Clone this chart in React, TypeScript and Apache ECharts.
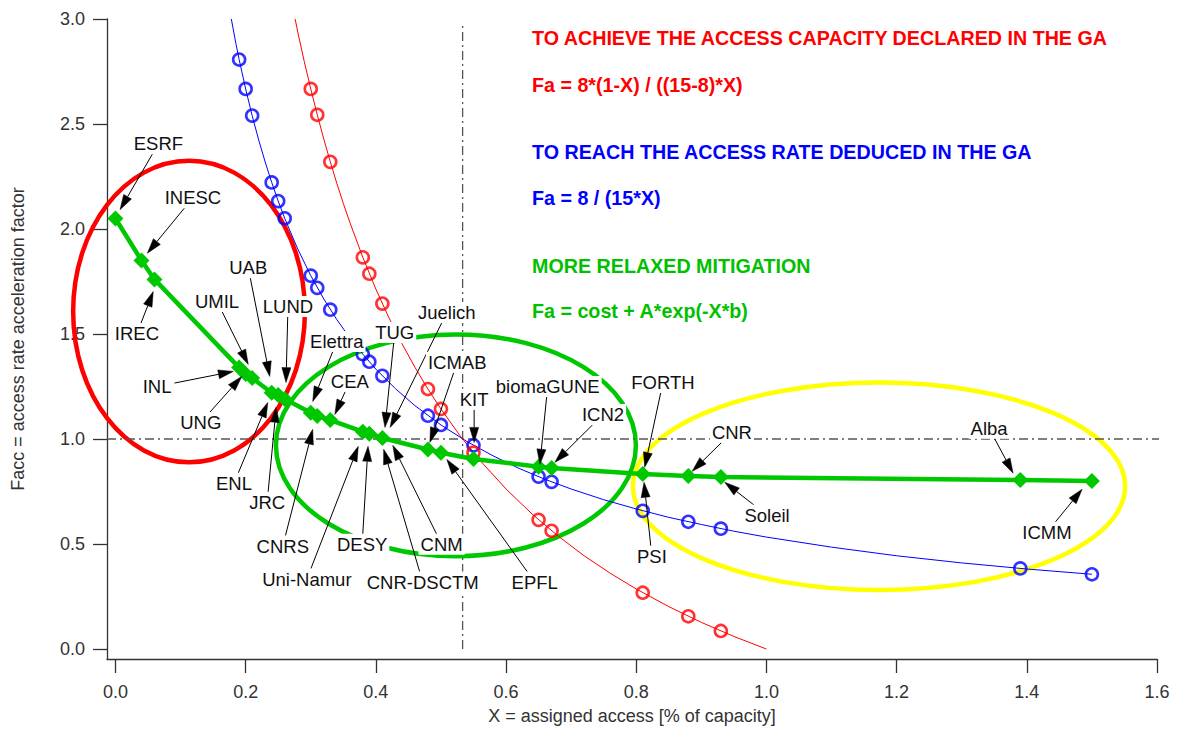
import React, { useEffect, useRef } from 'react';
import * as echarts from 'echarts';

// ---------- axis ticks ----------
const xTicks = [0, 0.2, 0.4, 0.6, 0.8, 1.0, 1.2, 1.4, 1.6];
const yTicks = [0, 0.5, 1.0, 1.5, 2.0, 2.5, 3.0];

// ---------- blue: Fa = 8 / (15*X) ----------
const blueCircleX = [0.19, 0.2, 0.21, 0.24, 0.25, 0.26, 0.3, 0.31, 0.33, 0.38, 0.39, 0.41, 0.48, 0.5, 0.55, 0.65, 0.67, 0.81, 0.88, 0.93, 1.39, 1.5];
const blueCircleY = [2.807, 2.667, 2.54, 2.222, 2.133, 2.051, 1.778, 1.72, 1.616, 1.404, 1.368, 1.301, 1.111, 1.067, 0.97, 0.821, 0.796, 0.658, 0.606, 0.573, 0.384, 0.356];
const blueCurveX = [0.178, 0.185, 0.19, 0.2, 0.21, 0.22, 0.23, 0.24, 0.25, 0.26, 0.28, 0.3, 0.32, 0.34, 0.36, 0.38, 0.4, 0.43, 0.46, 0.5, 0.54, 0.58, 0.62, 0.66, 0.7, 0.75, 0.8, 0.85, 0.9, 0.95, 1.0, 1.1, 1.2, 1.3, 1.4, 1.5];
const blueCurveY = [3.0, 2.883, 2.807, 2.667, 2.54, 2.424, 2.319, 2.222, 2.133, 2.051, 1.905, 1.778, 1.667, 1.569, 1.481, 1.404, 1.333, 1.24, 1.159, 1.067, 0.988, 0.92, 0.86, 0.808, 0.762, 0.711, 0.667, 0.627, 0.593, 0.561, 0.533, 0.485, 0.444, 0.41, 0.381, 0.356];

// ---------- red: Fa = 8*(1-X) / ((15-8)*X) ----------
const redCircleX = [0.3, 0.31, 0.33, 0.38, 0.39, 0.41, 0.48, 0.5, 0.55, 0.65, 0.67, 0.81, 0.88, 0.93];
const redCircleY = [2.667, 2.544, 2.32, 1.865, 1.787, 1.645, 1.238, 1.143, 0.935, 0.615, 0.563, 0.268, 0.156, 0.086];
const redCurveX = [0.276, 0.28, 0.29, 0.3, 0.31, 0.32, 0.33, 0.34, 0.35, 0.36, 0.38, 0.4, 0.42, 0.44, 0.46, 0.48, 0.5, 0.53, 0.56, 0.6, 0.64, 0.68, 0.72, 0.76, 0.8, 0.85, 0.9, 0.95, 1.0];
const redCurveY = [3.0, 2.939, 2.798, 2.667, 2.544, 2.429, 2.32, 2.218, 2.122, 2.032, 1.865, 1.714, 1.578, 1.455, 1.342, 1.238, 1.143, 1.013, 0.898, 0.762, 0.643, 0.538, 0.444, 0.361, 0.286, 0.202, 0.127, 0.06, 0.0];

// ---------- green: Fa = cost + A*exp(-X*b) ----------
const greenX = [0.0, 0.04, 0.06, 0.19, 0.2, 0.21, 0.24, 0.25, 0.26, 0.3, 0.31, 0.33, 0.38, 0.39, 0.41, 0.48, 0.5, 0.55, 0.65, 0.67, 0.81, 0.88, 0.93, 1.39, 1.5];
const greenY = [2.05, 1.85, 1.76, 1.34, 1.31, 1.29, 1.22, 1.21, 1.19, 1.125, 1.11, 1.09, 1.035, 1.025, 1.005, 0.95, 0.935, 0.905, 0.868, 0.862, 0.833, 0.824, 0.819, 0.805, 0.8];

// ---------- reference lines ----------
const refX = 0.5333;
const refY = 1.0;

// ---------- grouping ellipses (centre x, centre y, radius x, radius y) in data units ----------
const ellipseCX = [0.113, 0.523, 1.173];
const ellipseCY = [1.607, 0.97, 0.775];
const ellipseRX = [0.178, 0.2765, 0.378];
const ellipseRY = [0.718, 0.528, 0.494];
const ellipseColors = ['#ff0000', '#00c800', '#ffff00'];

// ---------- institution labels ----------
const labelNames = ['ESRF', 'INESC', 'IREC', 'UMIL', 'INL', 'UNG', 'UAB', 'LUND', 'ENL', 'JRC', 'Elettra', 'CEA', 'CNRS', 'TUG', 'Juelich', 'DESY', 'Uni-Namur', 'CNR-DSCTM', 'CNM', 'ICMAB', 'KIT', 'EPFL', 'biomaGUNE', 'ICN2', 'FORTH', 'PSI', 'CNR', 'Soleil', 'Alba', 'ICMM'];
const labelTextX = [0.066, 0.119, 0.033, 0.156, 0.064, 0.131, 0.204, 0.265, 0.182, 0.233, 0.34, 0.36, 0.257, 0.429, 0.509, 0.379, 0.294, 0.472, 0.501, 0.525, 0.551, 0.644, 0.664, 0.749, 0.841, 0.824, 0.947, 1.001, 1.342, 1.431];
const labelTextY = [2.406, 2.149, 1.502, 1.655, 1.25, 1.079, 1.816, 1.631, 0.789, 0.699, 1.464, 1.274, 0.49, 1.507, 1.602, 0.499, 0.333, 0.319, 0.499, 1.365, 1.189, 0.319, 1.25, 1.117, 1.269, 0.442, 1.032, 0.637, 1.051, 0.556];
const labelTipX = [0.007, 0.049, 0.058, 0.204, 0.181, 0.194, 0.237, 0.262, 0.234, 0.247, 0.303, 0.337, 0.303, 0.414, 0.422, 0.388, 0.373, 0.412, 0.426, 0.483, 0.551, 0.509, 0.652, 0.675, 0.813, 0.812, 0.886, 0.936, 1.379, 1.485];
const labelTipY = [2.092, 1.885, 1.702, 1.355, 1.322, 1.298, 1.298, 1.269, 1.174, 1.151, 1.179, 1.117, 1.046, 1.055, 1.055, 0.965, 0.965, 0.951, 0.97, 0.984, 0.984, 0.903, 0.88, 0.889, 0.865, 0.794, 0.846, 0.794, 0.837, 0.761];

// ---------- header notes ----------
const notes = [
  { text: 'TO ACHIEVE THE ACCESS CAPACITY DECLARED IN THE GA', color: '#ff0000' },
  { text: 'Fa = 8*(1-X) / ((15-8)*X)', color: '#ff0000' },
  { text: 'TO REACH THE ACCESS RATE DEDUCED IN THE GA', color: '#0000ff' },
  { text: 'Fa = 8 / (15*X)', color: '#0000ff' },
  { text: 'MORE RELAXED MITIGATION', color: '#00c000' },
  { text: 'Fa = cost + A*exp(-X*b)', color: '#00c000' },
];
const noteTops = [38, 85, 152, 198, 266, 311];

const FONT = '"Liberation Sans", Arial, Helvetica, sans-serif';
const LABEL_FS = 18.5;

const zip = (a: number[], b: number[]) => a.map((v, i) => [v, b[i]]);

export default function App() {
  const ref = useRef<HTMLDivElement>(null);
  useEffect(() => {
    if (!ref.current) return;
    const chart = echarts.init(ref.current, undefined, { renderer: 'svg' });

    const canvas = document.createElement('canvas');
    const ctx = canvas.getContext('2d')!;
    ctx.font = `${LABEL_FS}px "Liberation Sans"`;

    const axisCommon = {
      axisLine: { show: true, onZero: false, lineStyle: { color: '#333', width: 1.3 } },
      splitLine: { show: false },
    };

    const option: any = {
      animation: false,
      backgroundColor: '#ffffff',
      grid: { left: 107, top: 19, width: 1050, height: 641, containLabel: false },
      xAxis: {
        type: 'value',
        min: -0.013,
        max: 1.6,
        ...axisCommon,
        axisTick: { show: true, customValues: xTicks, length: 14, lineStyle: { color: '#333', width: 1.3 } },
        axisLabel: {
          customValues: xTicks,
          formatter: (v: number) => Number(v).toFixed(1),
          fontSize: 18,
          fontFamily: FONT,
          color: '#333',
          margin: 24,
        },
        name: 'X = assigned access [% of capacity]',
        nameLocation: 'middle',
        nameGap: 48,
        nameTextStyle: { fontSize: 18, fontFamily: FONT, color: '#333' },
      },
      yAxis: {
        type: 'value',
        min: -0.0475,
        max: 3.0,
        ...axisCommon,
        axisTick: { show: true, customValues: yTicks, length: 14, lineStyle: { color: '#333', width: 1.3 } },
        axisLabel: {
          customValues: yTicks,
          formatter: (v: number) => Number(v).toFixed(1),
          fontSize: 18,
          fontFamily: FONT,
          color: '#333',
          margin: 22,
        },
        name: 'Facc = access rate acceleration factor',
        nameLocation: 'middle',
        nameGap: 80,
        nameTextStyle: { fontSize: 18, fontFamily: FONT, color: '#333' },
      },
      graphic: notes.map((n, i) => ({
        type: 'text',
        x: 532,
        y: noteTops[i],
        z: 100,
        style: {
          text: n.text,
          fill: n.color,
          font: `bold 19.7px ${FONT}`,
          verticalAlign: 'middle',
          align: 'left',
        },
      })),
      series: [
        // grouping ellipses
        {
          type: 'custom',
          z: 2,
          clip: false,
          encode: { x: 0, y: 1 },
          data: ellipseCX.map((cx, i) => [cx, ellipseCY[i], ellipseRX[i], ellipseRY[i]]),
          renderItem: (params: any, api: any) => {
            const c = api.coord([api.value(0), api.value(1)]);
            const s = api.size([api.value(2), api.value(3)]);
            return {
              type: 'ellipse',
              shape: { cx: c[0], cy: c[1], rx: s[0], ry: s[1] },
              style: { fill: 'none', stroke: ellipseColors[params.dataIndex], lineWidth: 4.5 },
            };
          },
        },
        // reference dash-dot lines
        {
          type: 'line',
          z: 2,
          clip: false,
          symbol: 'none',
          data: [[-0.013, refY], [1.667, refY]],
          lineStyle: { color: '#555', width: 1.3, type: [9, 4, 2, 4] },
        },
        {
          type: 'line',
          z: 2,
          clip: false,
          symbol: 'none',
          data: [[refX, 0], [refX, 2.97]],
          lineStyle: { color: '#555', width: 1.3, type: [9, 4, 2, 4] },
        },
        // blue curve
        {
          type: 'line',
          z: 3,
          symbol: 'none',
          smooth: false,
          data: zip(blueCurveX, blueCurveY),
          lineStyle: { color: '#0000ff', width: 1 },
        },
        // red curve
        {
          type: 'line',
          z: 3,
          symbol: 'none',
          smooth: false,
          data: zip(redCurveX, redCurveY),
          lineStyle: { color: '#ff0000', width: 1 },
        },
        {
          type: 'scatter',
          z: 4,
          symbol: 'circle',
          symbolSize: 12,
          data: zip(blueCircleX, blueCircleY),
          itemStyle: { color: 'rgba(0,0,0,0)', borderColor: '#0000ff', borderWidth: 2.6 },
        },
        {
          type: 'scatter',
          z: 4,
          symbol: 'circle',
          symbolSize: 12,
          data: zip(redCircleX, redCircleY),
          itemStyle: { color: 'rgba(0,0,0,0)', borderColor: '#ff0000', borderWidth: 2.6 },
        },
        // green fit + diamonds
        {
          type: 'line',
          z: 5,
          smooth: false,
          symbol: 'diamond',
          symbolSize: 16,
          showAllSymbol: true,
          data: zip(greenX, greenY),
          lineStyle: { color: '#00c800', width: 4.5 },
          itemStyle: { color: '#00c800' },
        },
        // institution labels with arrows
        {
          type: 'custom',
          z: 10,
          clip: false,
          encode: { x: [0, 2], y: [1, 3] },
          data: labelTextX.map((x, i) => [x, labelTextY[i], labelTipX[i], labelTipY[i]]),
          renderItem: (params: any, api: any) => {
            const i = params.dataIndex;
            const name = labelNames[i];
            const p = api.coord([api.value(0), api.value(1)]);
            const t = api.coord([api.value(2), api.value(3)]);
            const w = ctx.measureText(name).width;
            const hw = w / 2 + 3;
            const hh = LABEL_FS / 2 + 1;
            const dx = t[0] - p[0];
            const dy = t[1] - p[1];
            const sx = Math.abs(dx) < 1e-6 ? Infinity : hw / Math.abs(dx);
            const sy = Math.abs(dy) < 1e-6 ? Infinity : hh / Math.abs(dy);
            const s = Math.min(sx, sy);
            const tail = [p[0] + dx * s, p[1] + dy * s];
            const len = Math.hypot(t[0] - tail[0], t[1] - tail[1]) || 1;
            const ux = (t[0] - tail[0]) / len;
            const uy = (t[1] - tail[1]) / len;
            const headLen = 15;
            const headHW = 4.5;
            const bx = t[0] - ux * headLen;
            const by = t[1] - uy * headLen;
            const nx = -uy;
            const ny = ux;
            return {
              type: 'group',
              children: [
                {
                  type: 'line',
                  z2: 5,
                  shape: { x1: tail[0], y1: tail[1], x2: bx, y2: by },
                  style: { stroke: '#000', lineWidth: 1 },
                },
                {
                  type: 'polygon',
                  z2: 6,
                  shape: {
                    points: [
                      [t[0], t[1]],
                      [bx + nx * headHW, by + ny * headHW],
                      [bx - nx * headHW, by - ny * headHW],
                    ],
                  },
                  style: { fill: '#000', stroke: '#000', lineWidth: 0.5 },
                },
                {
                  type: 'text',
                  z2: 10,
                  x: p[0],
                  y: p[1],
                  style: {
                    text: name,
                    fill: '#111',
                    fontSize: LABEL_FS,
                    fontFamily: FONT,
                    align: 'center',
                    verticalAlign: 'middle',
                    backgroundColor: '#ffffff',
                    padding: [1, 2, 1, 2],
                  },
                },
              ],
            };
          },
        },
      ],
    };

    chart.setOption(option);
    return () => chart.dispose();
  }, []);

  return (
    <div
      ref={ref}
      style={{ position: 'fixed', left: 0, top: 0, width: 1202, height: 730, background: '#fff' }}
    />
  );
}
